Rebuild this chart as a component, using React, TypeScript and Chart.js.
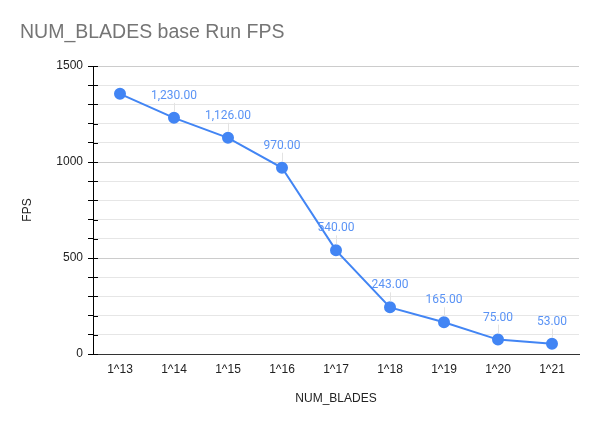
import React, { useEffect, useRef } from "react";
import { Chart, registerables } from "chart.js";

Chart.register(...registerables);

const categories = ["1^13", "1^14", "1^15", "1^16", "1^17", "1^18", "1^19", "1^20", "1^21"];
const fpsValues = [1355, 1230, 1126, 970, 540, 243, 165, 75, 53];
const showLabel = [false, true, true, true, true, true, true, true, true];
const yMajorTicks = [0, 500, 1000, 1500];

const LINE = "#4285f4";

const customPlugin = {
  id: "custom",
  beforeDraw(chart: any) {
    const ctx = chart.ctx;
    ctx.save();
    ctx.fillStyle = "#ffffff";
    ctx.fillRect(0, 0, chart.width, chart.height);
    ctx.restore();
  },
  afterDraw(chart: any) {
    const ctx = chart.ctx;
    const area = chart.chartArea;
    const y = chart.scales.y;
    ctx.save();
    ctx.fillStyle = "#757575";
    ctx.font = "19.5px 'Liberation Sans', Arial, sans-serif";
    ctx.textBaseline = "middle";
    ctx.textAlign = "left";
    ctx.fillText("NUM_BLADES base Run FPS", 20, 33);
    ctx.strokeStyle = "#000";
    ctx.lineWidth = 1;
    for (let v = 0; v <= 1500; v += 100) {
      const py = Math.round(y.getPixelForValue(v)) + 0.5;
      ctx.beginPath();
      ctx.moveTo(area.left, py);
      ctx.lineTo(area.left + 5, py);
      ctx.stroke();
    }
    const meta = chart.getDatasetMeta(0);
    ctx.font = "12px Roboto, 'Liberation Sans', sans-serif";
    ctx.textAlign = "center";
    ctx.textBaseline = "middle";
    meta.data.forEach((pt: any, i: number) => {
      if (!showLabel[i]) return;
      const px = pt.x;
      const py = pt.y;
      ctx.strokeStyle = "#e3e3e3";
      ctx.beginPath();
      ctx.moveTo(Math.round(px) + 0.5, py - 15);
      ctx.lineTo(Math.round(px) + 0.5, py - 6);
      ctx.stroke();
      ctx.fillStyle = "#5a93f5";
      const txt = fpsValues[i].toLocaleString("en-US", { minimumFractionDigits: 2, maximumFractionDigits: 2 });
      ctx.fillText(txt, px, py - 22);
    });
    ctx.restore();
  },
};

export default function App() {
  const ref = useRef<HTMLCanvasElement | null>(null);
  useEffect(() => {
    if (!ref.current) return;
    const chart = new Chart(ref.current, {
      type: "line",
      data: {
        labels: categories,
        datasets: [
          {
            data: fpsValues,
            borderColor: LINE,
            backgroundColor: LINE,
            pointBackgroundColor: LINE,
            pointBorderColor: LINE,
            pointRadius: 5,
            borderWidth: 2,
            tension: 0,
          },
        ],
      },
      options: {
        responsive: false,
        animation: false,
        devicePixelRatio: 1,
        layout: { padding: { left: 20, right: 21, top: 66, bottom: 20 } },
        plugins: {
          legend: { display: false },
          title: { display: false },
          tooltip: { enabled: false },
        },
        scales: {
          x: {
            offset: true,
            grid: { display: false, drawTicks: false },
            border: { display: true, color: "#333", width: 1 },
            ticks: {
              color: "#222",
              font: { family: "'Liberation Sans', Arial, sans-serif", size: 12 },
              padding: 8,
              maxRotation: 0,
            },
            title: {
              display: true,
              text: "NUM_BLADES",
              color: "#222",
              font: { family: "'Liberation Sans', Arial, sans-serif", size: 12 },
              padding: { top: 16, bottom: 0 },
            },
            afterFit(scale: any) {
              scale.height = 52;
            },
          },
          y: {
            min: 0,
            max: 1500,
            ticks: {
              stepSize: 100,
              color: "#222",
              font: { family: "'Liberation Sans', Arial, sans-serif", size: 12 },
              padding: 5,
              autoSkip: false,
              callback: (v: any) => (yMajorTicks.includes(Number(v)) ? String(v) : ""),
            },
            grid: {
              color: (c: any) => (c.tick && yMajorTicks.includes(c.tick.value) ? "#cccccc" : "#e6e6e6"),
              tickColor: "#000",
              tickLength: 5,
            },
            border: { display: true, color: "#000", width: 1 },
            title: {
              display: true,
              text: "FPS",
              color: "#222",
              font: { family: "'Liberation Sans', Arial, sans-serif", size: 12 },
              padding: 0,
            },
            afterFit(scale: any) {
              scale.width = 73;
            },
          },
        },
      } as any,
      plugins: [customPlugin],
    });
    return () => chart.destroy();
  }, []);
  return (
    <div style={{ position: "fixed", left: 0, top: 0, width: 600, height: 426 }}>
      <canvas ref={ref} width={600} height={426} style={{ width: 600, height: 426, display: "block" }} />
    </div>
  );
}
